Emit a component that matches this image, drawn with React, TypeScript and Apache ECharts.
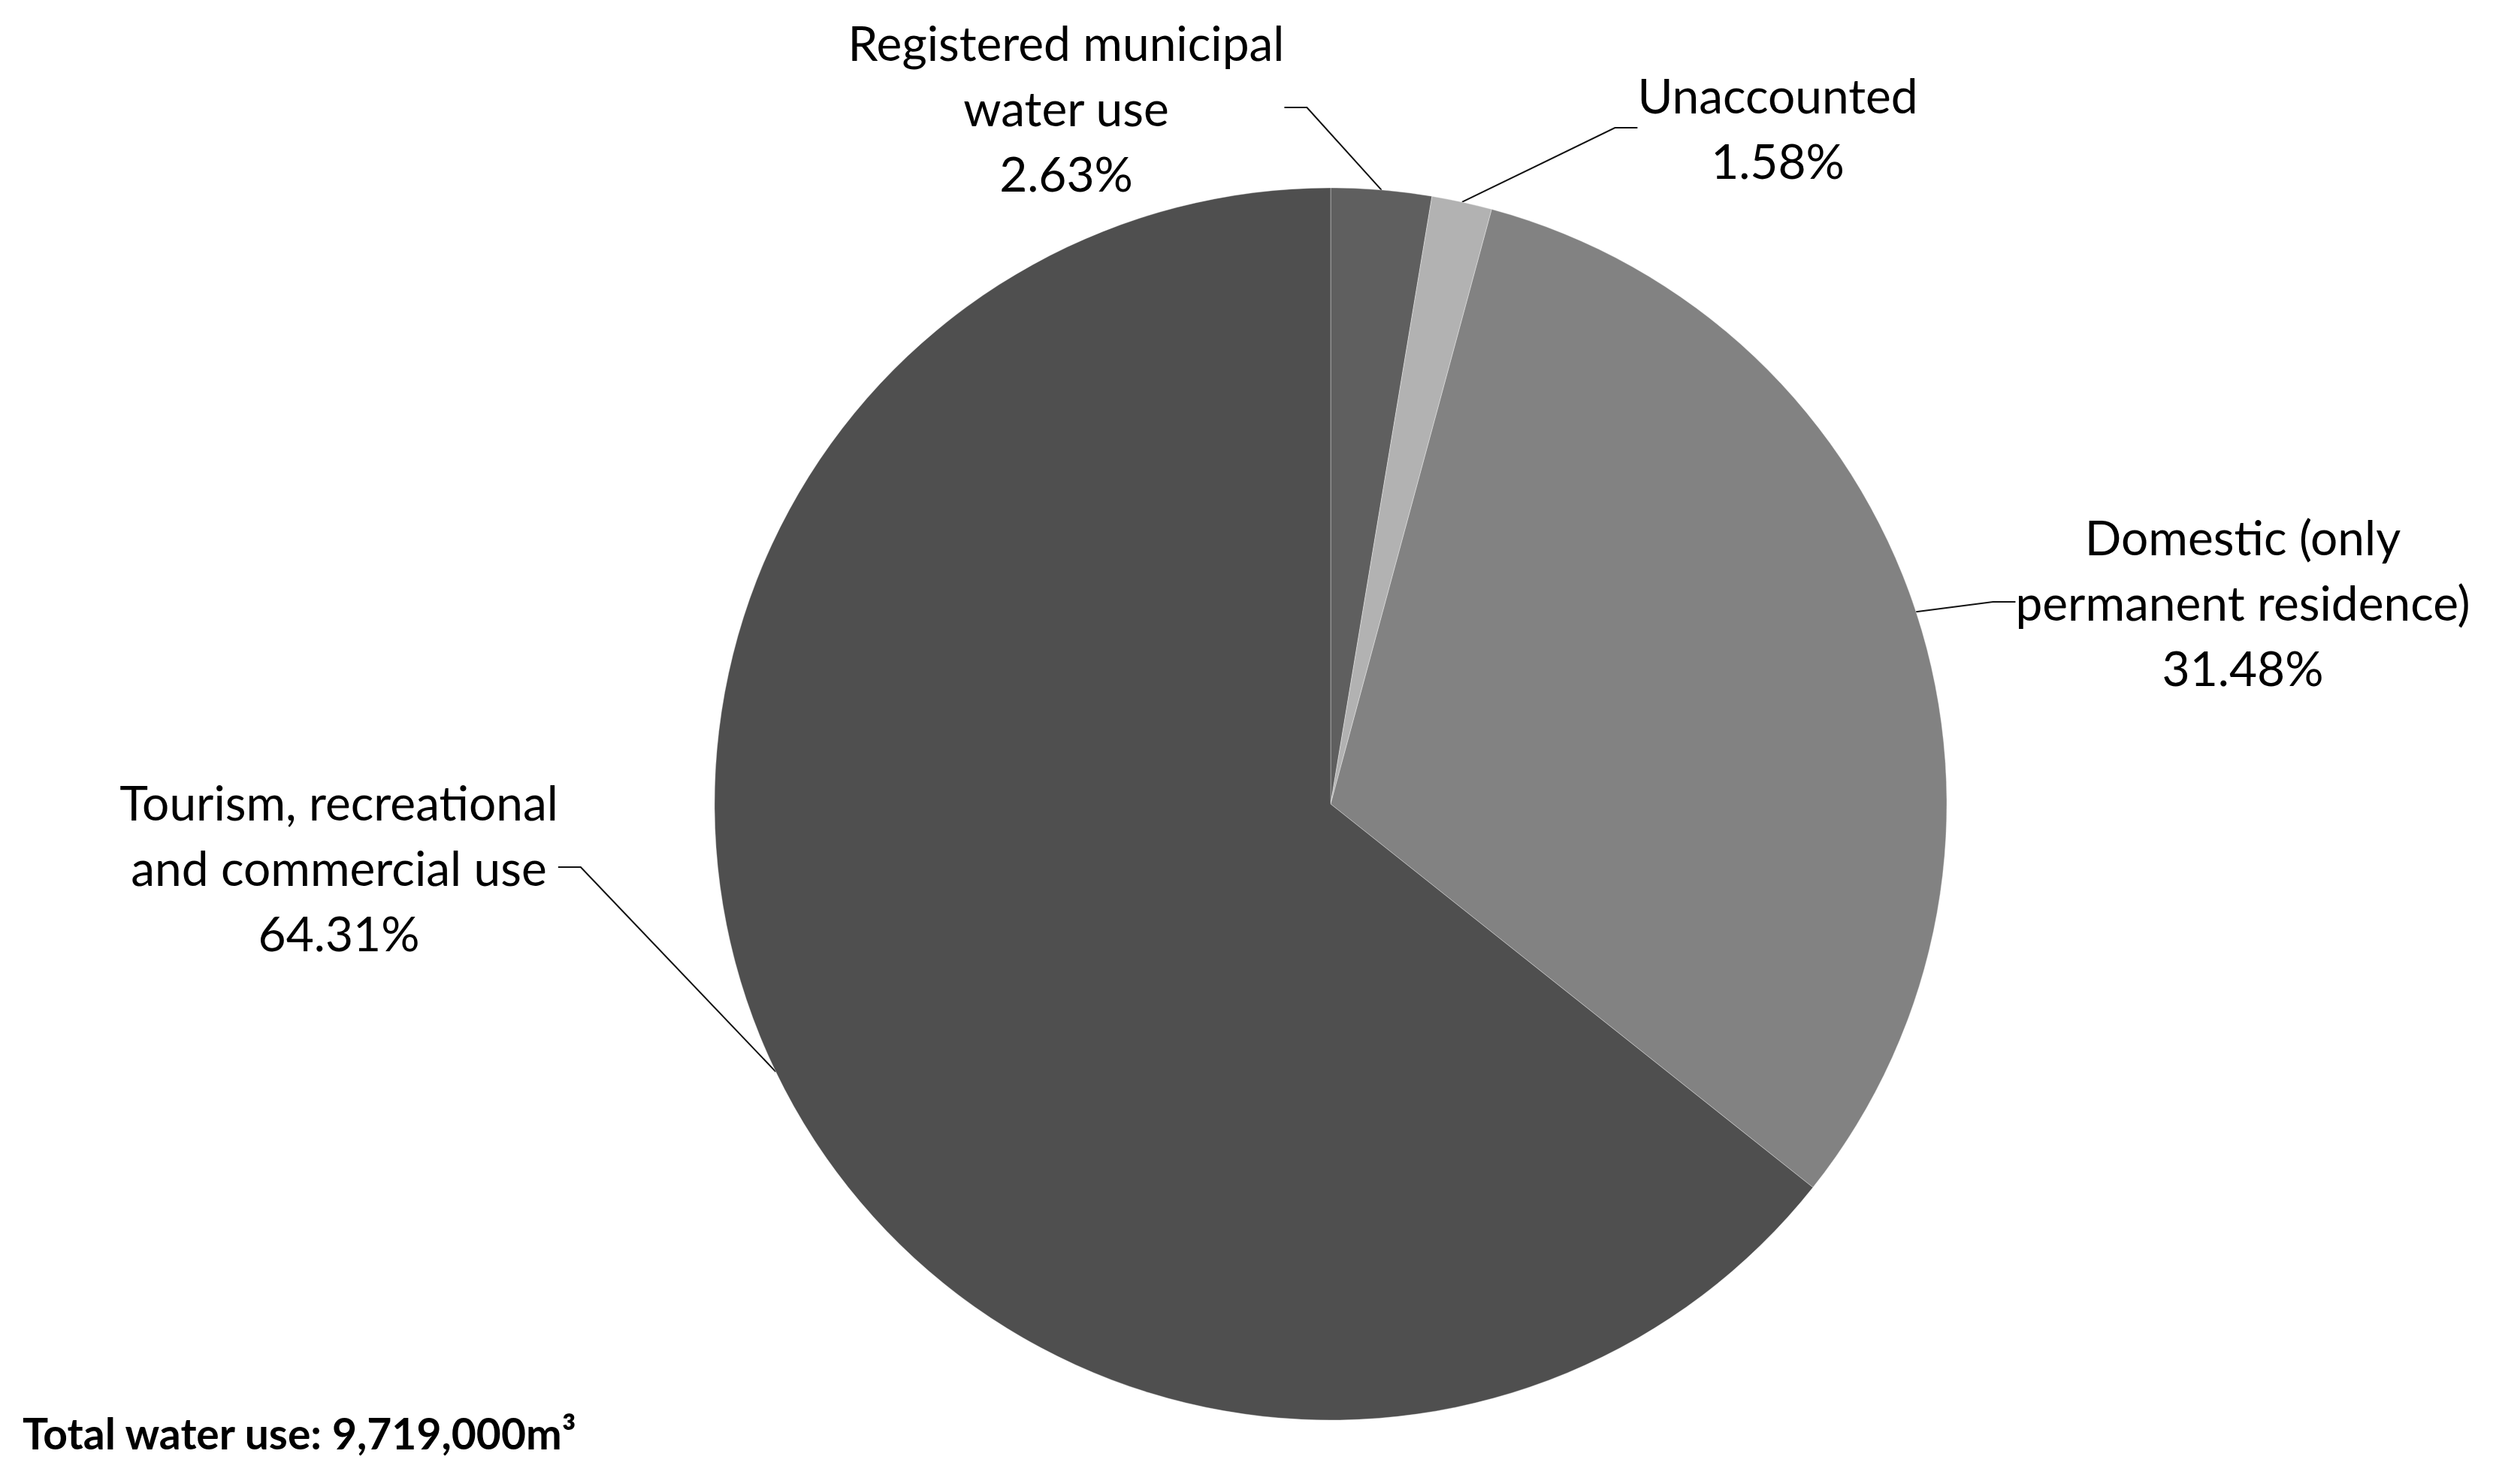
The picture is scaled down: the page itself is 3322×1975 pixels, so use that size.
import React, { useEffect, useRef } from "react";
import * as echarts from "echarts";

const categories = [
  "Registered municipal\nwater use",
  "Unaccounted",
  "Domestic (only\npermanent residence)",
  "Tourism, recreational\nand commercial use",
];
const shares = [2.63, 1.58, 31.48, 64.31];
const sliceColors = ["#5f5f5f", "#b2b2b2", "#828282", "#4f4f4f"];
const totalNote = "Total water use: 9,719,000m³";

// label anchor positions (chart pixels)
const labelPos = [
  [1411, 135],
  [2358, 162],
  [2977, 793],
  [443, 1146],
];

export default function App() {
  const ref = useRef<HTMLDivElement>(null);
  useEffect(() => {
    if (!ref.current) return;
    const chart = echarts.init(ref.current, null, { renderer: "svg" });
    chart.setOption({
      animation: false,
      backgroundColor: "#ffffff",
      graphic: [
        {
          type: "text",
          left: 22,
          top: 1870,
          style: {
            text: totalNote,
            font: "bold 57px Lato",
            fill: "#000",
          },
        },
      ],
      series: [
        {
          type: "pie",
          center: [1763, 1062],
          radius: 820,
          startAngle: 90,
          clockwise: true,
          itemStyle: { borderColor: "rgba(255,255,255,0.35)", borderWidth: 1 },
          data: categories.map((c, i) => ({
            name: c,
            value: shares[i],
            itemStyle: { color: sliceColors[i] },
          })),
          label: {
            show: true,
            position: "outside",
            formatter: (p: any) => `${p.name}\n${p.value.toFixed(2)}%`,
            fontFamily: "Lato",
            fontSize: 64,
            lineHeight: 87,
            color: "#000",
            align: "center",
          },
          labelLine: {
            show: true,
            length: 30,
            length2: 30,
            lineStyle: { color: "#111", width: 2 },
          },
          labelLayout: (params: any) => {
            const pos = labelPos[params.dataIndex];
            return {
              x: pos[0],
              y: pos[1],
              align: "center",
              verticalAlign: "middle",
            };
          },
          emphasis: { disabled: true },
        },
      ],
    });
    return () => chart.dispose();
  }, []);
  return <div ref={ref} style={{ width: 3306, height: 1959 }} />;
}
